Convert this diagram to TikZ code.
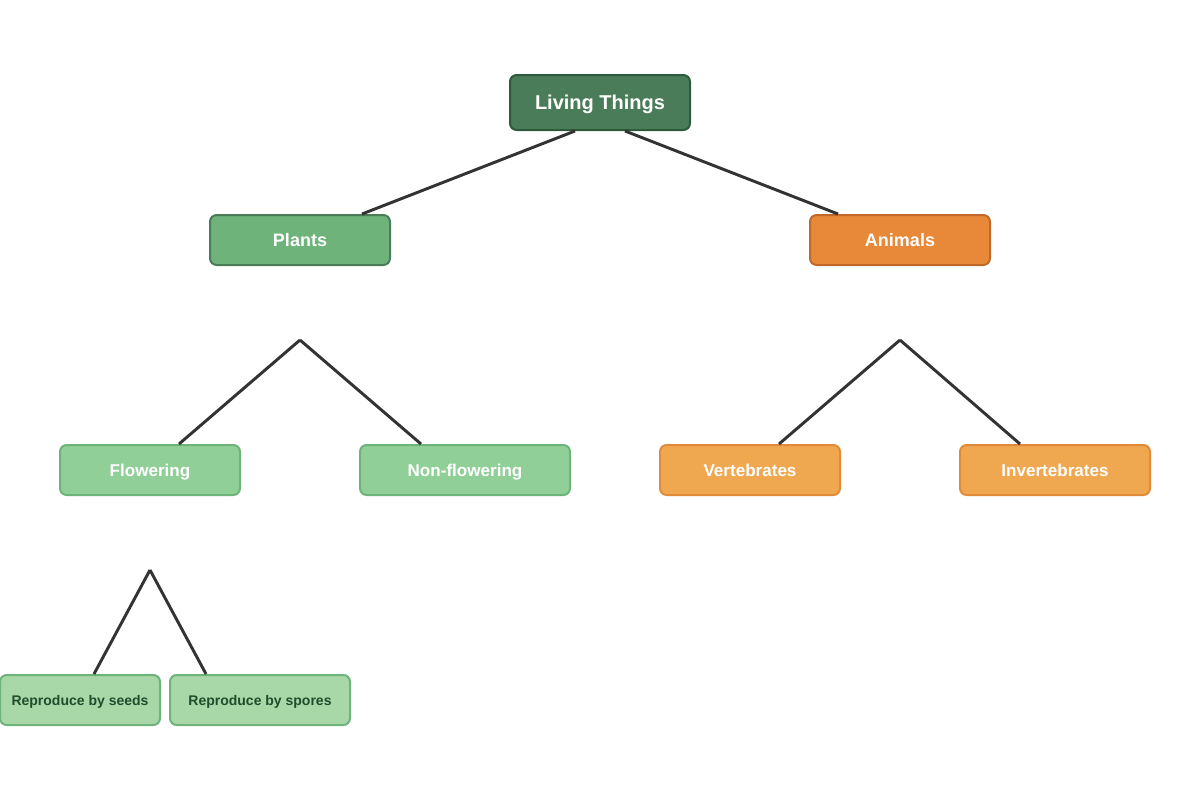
\documentclass[tikz,border=0pt]{standalone}
\usepackage{fontspec}
\setmainfont{Liberation Sans}
\usepackage{tikz}
\usetikzlibrary{calc}

\definecolor{rootfill}{HTML}{4A7C59}
\definecolor{rootline}{HTML}{2D5A3A}
\definecolor{plantfill}{HTML}{6DB37A}
\definecolor{plantline}{HTML}{4A7C59}
\definecolor{animalfill}{HTML}{E8893A}
\definecolor{animalline}{HTML}{C0692A}
\definecolor{flowerfill}{HTML}{90D098}
\definecolor{flowerline}{HTML}{6DB37A}
\definecolor{vertfill}{HTML}{F0A850}
\definecolor{vertline}{HTML}{E08A3A}
\definecolor{seedfill}{HTML}{A8D8A8}
\definecolor{seedtext}{HTML}{1E4D2B}
\definecolor{edgecol}{HTML}{333333}

\tikzset{
	box/.style={rounded corners=5pt, line width=1.5pt, minimum height=37.5pt,
		minimum width=135pt, inner sep=0pt, text height=9.2pt, text depth=0pt,
		font=\bfseries\fontsize{12.8}{14}\selectfont, text=white},
	rootbox/.style={box, minimum height=41.25pt, text height=10.7pt,
		font=\bfseries\fontsize{15}{17}\selectfont},
	topbox/.style={box, text height=9.7pt, font=\bfseries\fontsize{13.5}{15}\selectfont},
	leafbox/.style={box, fill=seedfill, draw=flowerline, text=seedtext, text height=7.5pt,
		font=\bfseries\fontsize{10.5}{12}\selectfont},
	link/.style={edgecol, line width=2.2pt}
}

\begin{document}
\begin{tikzpicture}[x=0.75pt,y=-0.75pt]
\useasboundingbox (0,0) rectangle (1200,800);

\node[rootbox, fill=rootfill, draw=rootline] (living) at (600,102.5) {Living Things};

\node[topbox, fill=plantfill, draw=plantline] (plants) at (300,240) {Plants};
\node[topbox, fill=animalfill, draw=animalline] (animals) at (900,240) {Animals};

\node[box, fill=flowerfill, draw=flowerline] (flowering) at (150,470) {Flowering};
\node[box, fill=flowerfill, draw=flowerline, minimum width=157.5pt] (nonflowering) at (465,470) {Non-flowering};
\node[box, fill=vertfill, draw=vertline] (vertebrates) at (750,470) {Vertebrates};
\node[box, fill=vertfill, draw=vertline, minimum width=142.5pt] (invertebrates) at (1055,470) {Invertebrates};

\node[leafbox, minimum width=120pt] (seeds) at (80,700) {Reproduce by seeds};
\node[leafbox] (spores) at (260,700) {Reproduce by spores};

\coordinate (plantsjoin) at (300,340);
\coordinate (animalsjoin) at (900,340);
\coordinate (floweringjoin) at (150,570);

\draw [link] ($(living.south)+(-25,0)$) -- ($(plants.north)+(62,0)$);
\draw [link] ($(living.south)+(25,0)$) -- ($(animals.north)+(-62,0)$);

\draw [link] (plantsjoin) -- ($(flowering.north)+(29,0)$);
\draw [link] (plantsjoin) -- ($(nonflowering.north)+(-44,0)$);
\draw [link] (animalsjoin) -- ($(vertebrates.north)+(29,0)$);
\draw [link] (animalsjoin) -- ($(invertebrates.north)+(-35,0)$);

\draw [link] (floweringjoin) -- ($(seeds.north)+(14,0)$);
\draw [link] (floweringjoin) -- ($(spores.north)+(-54,0)$);

\end{tikzpicture}
\end{document}
